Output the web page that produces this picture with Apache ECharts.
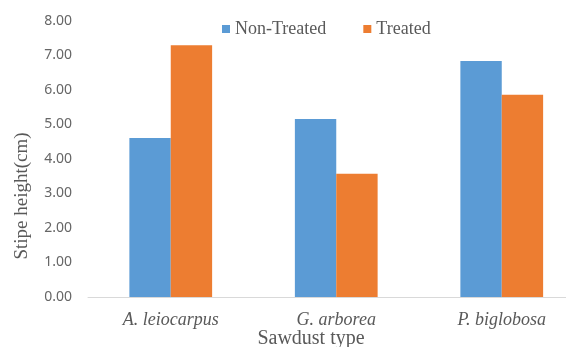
<!DOCTYPE html>
<html>
<head>
<meta charset="utf-8">
<script src="https://cdn.jsdelivr.net/npm/echarts@6/dist/echarts.min.js"></script>
<style>
  html, body { margin: 0; padding: 0; background: #fff; }
  #chart { width: 566px; height: 347px; }
</style>
</head>
<body>
<div id="chart"></div>
<script>
// 数据
var categories = ['A. leiocarpus', 'G. arborea', 'P. biglobosa'];
var nonTreated = [4.61, 5.16, 6.84];
var treated = [7.30, 3.57, 5.86];
var seriesNames = ['Non-Treated', 'Treated'];

var serif = "Liberation Serif";

var myChart = echarts.init(document.getElementById('chart'));
myChart.setOption({
    animation: false,
    color: ['#5B9BD5', '#ED7D31'],
    textStyle: { fontFamily: serif },
    // 图例
    legend: {
        left: 222,
        top: 20,
        padding: 0,
        itemWidth: 8,
        itemHeight: 8,
        itemGap: 37,
        icon: 'rect',
        textStyle: {
            fontFamily: serif,
            fontSize: 18,
            lineHeight: 18,
            color: '#595959'
        },
        data: seriesNames
    },
    grid: {
        left: 88,
        top: 21,
        right: -18.5,
        bottom: 50,
        outerBoundsMode: 'none'
    },
    xAxis: {
        type: 'category',
        data: categories,
        axisLine: { lineStyle: { color: '#d9d9d9', width: 1 } },
        axisTick: { show: false },
        axisLabel: {
            margin: 14,
            fontFamily: serif,
            fontStyle: 'italic',
            fontSize: 18,
            color: '#595959'
        }
    },
    yAxis: {
        type: 'value',
        min: 0,
        max: 8,
        interval: 1,
        axisLine: { show: false },
        axisTick: { show: false },
        splitLine: { show: false },
        axisLabel: {
            margin: 16,
            fontFamily: 'Noto Sans',
            fontSize: 14,
            color: '#666666',
            formatter: function (v) { return v.toFixed(2); }
        }
    },
    // 坐标轴标题
    graphic: [
        {
            type: 'text',
            x: 22,
            y: 196,
            rotation: Math.PI / 2,
            style: {
                text: 'Stipe height(cm)',
                fontFamily: serif,
                fontSize: 19,
                fill: '#595959',
                align: 'center',
                verticalAlign: 'middle'
            }
        },
        {
            type: 'text',
            x: 311,
            y: 339,
            style: {
                text: 'Sawdust type',
                fontFamily: serif,
                fontSize: 20,
                fill: '#595959',
                align: 'center',
                verticalAlign: 'middle'
            }
        }
    ],
    series: [
        {
            name: seriesNames[0],
            type: 'bar',
            barGap: 0,
            barCategoryGap: '50%',
            data: nonTreated
        },
        {
            name: seriesNames[1],
            type: 'bar',
            barGap: 0,
            barCategoryGap: '50%',
            data: treated
        }
    ]
});
</script>
</body>
</html>
